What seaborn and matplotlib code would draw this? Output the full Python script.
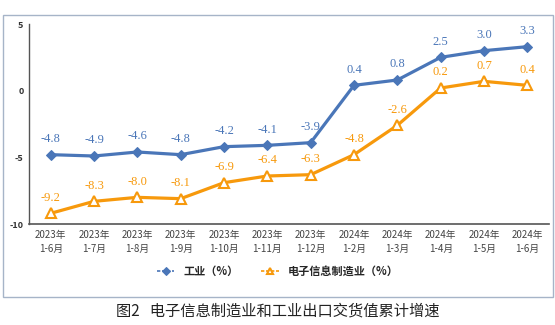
import matplotlib
matplotlib.use("Agg")
import matplotlib.pyplot as plt
import seaborn as sns
import pandas as pd
from matplotlib.patches import Rectangle

sns.set_theme(style="white")
plt.rcParams['font.family'] = ['Noto Sans CJK SC', 'DejaVu Sans']

categories = ["2023年\n1-6月", "2023年\n1-7月", "2023年\n1-8月", "2023年\n1-9月",
              "2023年\n1-10月", "2023年\n1-11月", "2023年\n1-12月", "2024年\n1-2月",
              "2024年\n1-3月", "2024年\n1-4月", "2024年\n1-5月", "2024年\n1-6月"]
industry = [-4.8, -4.9, -4.6, -4.8, -4.2, -4.1, -3.9, 0.4, 0.8, 2.5, 3.0, 3.3]
electronics = [-9.2, -8.3, -8.0, -8.1, -6.9, -6.4, -6.3, -4.8, -2.6, 0.2, 0.7, 0.4]
series_names = ["工业（%）", "电子信息制造业（%）"]
yticks = [5, 0, -5, -10]

blue = "#4A76B8"
orange = "#F7990C"

df = pd.DataFrame({"cat": categories, series_names[0]: industry, series_names[1]: electronics})
df["x"] = range(len(categories))

fig = plt.figure(figsize=(5.55, 3.25), dpi=100)
ax = fig.add_axes([29/555, 1-224/325, (549-29)/555, 200/325])

# outer frame
fig.patches.append(Rectangle((3/555, 1-297/325), 550/555, 282/325, transform=fig.transFigure,
                             fill=False, edgecolor="#A6B4C8", linewidth=1.0))

sns.lineplot(data=df, x="x", y=series_names[0], ax=ax, color=blue, linewidth=2.3,
             marker="D", markersize=5.5, markeredgecolor=blue, label=series_names[0], legend=False)
sns.lineplot(data=df, x="x", y=series_names[1], ax=ax, color=orange, linewidth=2.3,
             marker="^", markersize=7, markerfacecolor="white", markeredgecolor=orange,
             markeredgewidth=1.5, label=series_names[1], legend=False)

for xi, v in zip(df["x"], industry):
    ax.annotate(f"{v:.1f}", (xi, v), xytext=(0, 7), textcoords="offset points",
                ha="center", va="bottom", fontsize=9, color=blue, family="Liberation Serif")
for xi, v in zip(df["x"], electronics):
    ax.annotate(f"{v:.1f}", (xi, v), xytext=(0, 7), textcoords="offset points",
                ha="center", va="bottom", fontsize=9, color=orange, family="Liberation Serif")

ax.set_xlim(-0.5, len(categories) - 0.5)
ax.set_ylim(-10, 5)
ax.set_yticks(yticks)
ax.set_yticklabels([str(t) for t in yticks], fontsize=6.5, fontweight="bold", color="#333333")
ax.set_xticks(df["x"])
ax.set_xticklabels(categories, fontsize=7, color="#444444", linespacing=1.5)
ax.tick_params(axis="both", length=0, pad=4)
ax.set_xlabel("")
ax.set_ylabel("")
for s in ["top", "right"]:
    ax.spines[s].set_visible(False)
ax.spines["left"].set_color("#555555")
ax.spines["left"].set_linewidth(1.0)
ax.spines["bottom"].set_color("#555555")
ax.spines["bottom"].set_linewidth(1.2)

handles, labels = ax.get_legend_handles_labels()
fig.legend(handles, labels, loc="center", bbox_to_anchor=(0.5, 1-271/325), ncol=2,
           frameon=False, handlelength=1.6, columnspacing=2.0,
           prop={"family": ["Noto Sans CJK SC"], "weight": "bold", "size": 8})
for h in fig.legends[0].legend_handles:
    h.set_linewidth(1.2)
    h.set_linestyle((0, (2, 1)))
    h.set_markersize(4)

fig.text(0.5, 1-311/325, "图2   电子信息制造业和工业出口交货值累计增速", ha="center", va="center",
         fontsize=11, color="#222222")

fig.savefig("out.png", dpi=100)
